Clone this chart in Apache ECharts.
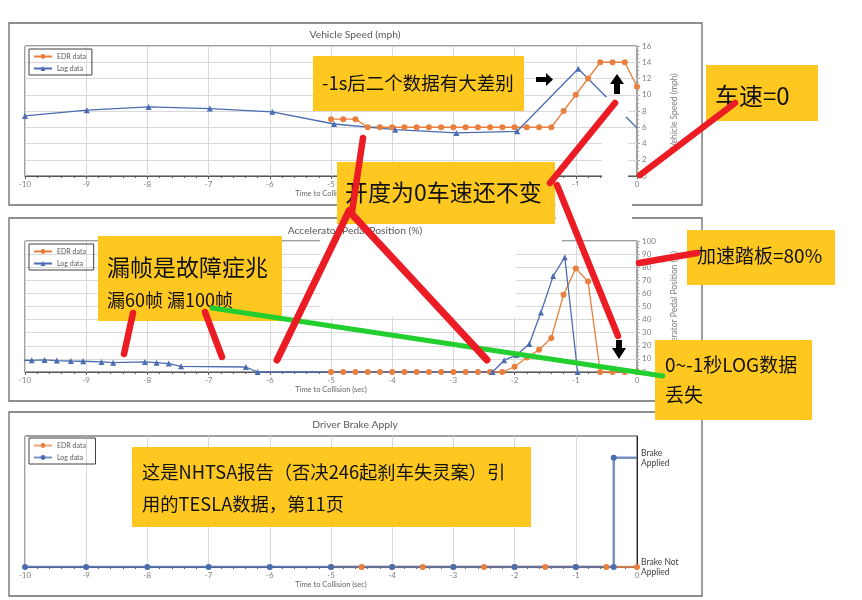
<!DOCTYPE html>
<html>
<head>
<meta charset="utf-8">
<script src="https://cdn.jsdelivr.net/npm/echarts@6/dist/echarts.min.js"></script>
<style>
html, body { margin: 0; padding: 0; background: #fff; }
#main { width: 862px; height: 600px; }
</style>
</head>
<body>
<div id="main"></div>
<script>
// EDR 采样时间 (0.2s)
var edrTime = [-5, -4.8, -4.6, -4.4, -4.2, -4, -3.8, -3.6, -3.4, -3.2, -3, -2.8, -2.6,
    -2.4, -2.2, -2, -1.8, -1.6, -1.4, -1.2, -1, -0.8, -0.6, -0.4, -0.2, 0];

// 车速
var speedEdr = [7, 7, 7, 6, 6, 6, 6, 6, 6, 6, 6, 6, 6, 6, 6, 6, 6, 6, 6, 8, 10, 12, 14, 14, 14, 11];
var speedLogTime = [-10, -8.99, -7.98, -6.98, -5.96, -4.95, -3.95, -2.95, -1.96, -0.96, 0];
var speedLog = [7.4, 8.1, 8.5, 8.3, 7.9, 6.4, 5.7, 5.3, 5.5, 13.2, 5.9];

// 油门踏板
var pedalEdr = [0, 0, 0, 0, 0, 0, 0, 0, 0, 0, 0, 0, 0, 0, 0, 4, 11, 17, 26, 59, 79, 69, 0, 0, 0, 0];
var pedalLogTime = [-10.08, -9.89, -9.68, -9.48, -9.25, -9.05, -8.75, -8.56, -8.04, -7.85, -7.65,
    -7.45, -6.39, -6.2, -2.36, -2.17, -1.97, -1.76, -1.57, -1.37, -1.18, -0.97];
var pedalLog = [9.0, 8.9, 9.2, 8.7, 8.4, 8.2, 7.7, 7.1, 7.7, 7.1, 6.4,
    4.3, 3.8, 0, 0, 9.0, 12.9, 21.4, 45.4, 73.2, 87.6, 0];

// 刹车
var brakeEdrTime = [-5, -4.5, -4, -3.5, -3, -2.5, -2, -1.5, -1, -0.5, 0];
var brakeEdr = [0, 0, 0, 0, 0, 0, 0, 0, 0, 0, 0];
var brakeLogTime = [-10, -9, -8, -7, -6, -5, -4, -3, -2, -1, -0.38, -0.38, 0];
var brakeLog = [0, 0, 0, 0, 0, 0, 0, 0, 0, 0, 0, 1, 1];
var brakeLabels = ['Brake Not\nApplied', 'Brake\nApplied'];

var chartTitles = ['Vehicle Speed (mph)', 'Accelerator Pedal Position (%)', 'Driver Brake Apply'];

var orange = '#E97F3E';
var blue = '#4A6CB0';
var yellow = '#FEC820';
var red = '#EC1C24';
var green = '#23CF2E';

function pairs(xs, ys) {
    var out = [];
    for (var i = 0; i < xs.length; i++) {
        out.push([xs[i], ys[i]]);
    }
    return out;
}

function xAxisFor(idx) {
    return {
        type: 'value', gridIndex: idx, min: -10, max: 0, interval: 1,
        name: 'Time to Collision (sec)', nameLocation: 'middle', nameGap: 14,
        nameTextStyle: { fontFamily: 'Lato', fontSize: 7.5, color: '#666' },
        axisLine: { lineStyle: { color: '#595959', width: 1 } },
        axisTick: { length: 3, lineStyle: { color: '#595959' } },
        minorTick: { show: true, splitNumber: 5, length: 2, lineStyle: { color: '#595959' } },
        axisLabel: { fontFamily: 'Lato', fontSize: 8, color: '#808080', margin: 4 },
        splitLine: { show: true, lineStyle: { color: '#D9D9D9' } }
    };
}

function valueAxis(idx, max, step, name) {
    return {
        type: 'value', gridIndex: idx, position: 'right', min: 0, max: max, interval: step,
        name: name, nameLocation: 'middle', nameGap: 33, nameRotate: 90,
        nameTextStyle: { fontFamily: 'Lato', fontSize: 8.5, color: '#808080' },
        axisLine: { show: true, lineStyle: { color: '#A6A6A6' } },
        axisTick: { show: true, length: 3, lineStyle: { color: '#A6A6A6' } },
        minorTick: { show: true, splitNumber: 4, length: 2, lineStyle: { color: '#A6A6A6' } },
        axisLabel: { fontFamily: 'Lato', fontSize: 8, color: '#808080', margin: 5 },
        splitLine: { show: true, lineStyle: { color: '#D9D9D9' } }
    };
}

function lineSeries(name, idx, data, color, symbol, width, opacity) {
    return {
        name: name, type: 'line', xAxisIndex: idx, yAxisIndex: idx,
        data: data, symbol: symbol, symbolSize: 6,
        itemStyle: { color: color },
        lineStyle: { color: color, width: width, opacity: opacity }
    };
}

function legendFor(top, names) {
    return {
        left: 29, top: top, orient: 'vertical', data: names,
        borderColor: '#404040', borderWidth: 1, padding: [4, 6, 3, 4],
        itemGap: 5, itemWidth: 18, itemHeight: 6,
        textStyle: { fontFamily: 'Lato', fontSize: 7, color: '#595959' }
    };
}

function titleFor(text, top) {
    return {
        text: text, left: 355, top: top, textAlign: 'center', padding: 0,
        textStyle: { fontFamily: 'Lato', fontSize: 10.3, fontWeight: 'normal', color: '#595959' }
    };
}

// 注释图形
function rectEl(x, y, w, h, fill, z) {
    return { type: 'rect', silent: true, z: z, shape: { x: x, y: y, width: w, height: h }, style: { fill: fill } };
}

function frameEl(x, y, w, h) {
    return { type: 'rect', silent: true, z: 1, shape: { x: x, y: y, width: w, height: h },
        style: { fill: 'transparent', stroke: '#6B6B6B', lineWidth: 1.3 } };
}

function polyEl(points, fill, z) {
    return { type: 'polygon', silent: true, z: z, shape: { points: points }, style: { fill: fill } };
}

function segEl(x1, y1, x2, y2, color, w, z) {
    return { type: 'line', silent: true, z: z, shape: { x1: x1, y1: y1, x2: x2, y2: y2 },
        style: { stroke: color, lineWidth: w, lineCap: 'round' } };
}

function textEl(x, y, str, size) {
    return { type: 'text', silent: true, z: 11, x: x, y: y,
        style: { text: str, fontSize: size, fontFamily: '"Noto Sans CJK SC"', fill: '#111',
            align: 'left', verticalAlign: 'middle' } };
}

var speedLogData = pairs(speedLogTime, speedLog);
speedLogData[speedLogData.length - 1] = { value: speedLogData[speedLogData.length - 1], symbol: 'none' };
var brakeLogData = pairs(brakeLogTime, brakeLog);
brakeLogData[brakeLogData.length - 1] = { value: brakeLogData[brakeLogData.length - 1], symbol: 'none' };

var brakeAxis = {
    type: 'value', gridIndex: 2, position: 'right', min: 0, max: 1.2, interval: 1,
    axisLine: { show: true, lineStyle: { color: '#262626' } },
    axisTick: { show: false },
    splitLine: { show: false },
    axisLabel: {
        fontFamily: 'Lato', fontSize: 8.5, color: '#404040', margin: 4, lineHeight: 10,
        formatter: function(v) {
            if (v === 0) return brakeLabels[0];
            if (v === 1) return brakeLabels[1];
            return '';
        }
    }
};

var gridBase = { left: 25, width: 612, height: 131, show: true, borderColor: '#404040', borderWidth: 1,
    outerBoundsMode: 'none' };

var option = {
    animation: false,
    backgroundColor: '#fff',
    title: [titleFor(chartTitles[0], 30), titleFor(chartTitles[1], 226), titleFor(chartTitles[2], 420)],
    legend: [
        legendFor(49, ['EDR data', 'Log data']),
        legendFor(244, ['EDR data ', 'Log data ']),
        legendFor(438, ['EDR data  ', 'Log data  '])
    ],
    grid: [
        Object.assign({}, gridBase, { top: 46, height: 130 }),
        Object.assign({}, gridBase, { top: 241 }),
        Object.assign({}, gridBase, { top: 436 })
    ],
    xAxis: [xAxisFor(0), xAxisFor(1), xAxisFor(2)],
    yAxis: [
        valueAxis(0, 16, 2, 'Vehicle Speed (mph)'),
        valueAxis(1, 100, 10, 'Accelerator Pedal Position (%)'),
        brakeAxis
    ],
    series: [
        lineSeries('EDR data', 0, pairs(edrTime, speedEdr), orange, 'circle', 1.3, 1),
        lineSeries('Log data', 0, speedLogData, blue, 'triangle', 1.3, 1),
        lineSeries('EDR data ', 1, pairs(edrTime, pedalEdr), orange, 'circle', 1.3, 1),
        lineSeries('Log data ', 1, pairs(pedalLogTime, pedalLog), blue, 'triangle', 1.3, 1),
        lineSeries('EDR data  ', 2, pairs(brakeEdrTime, brakeEdr), orange, 'circle', 2.5, 0.7),
        lineSeries('Log data  ', 2, brakeLogData, blue, 'circle', 2.5, 0.75)
    ],
    graphic: [
        // 外框
        frameEl(9, 23, 693, 182),
        frameEl(9, 218, 693, 183),
        frameEl(9, 412, 693, 184),
        // 白色遮挡
        rectEl(606, 97, 22, 20, '#fff', 5),
        polyEl([[602, 136], [628, 136], [628, 186], [632, 186], [632, 239], [556, 239], [555, 186], [602, 186]], '#fff', 5),
        polyEl([[320, 237], [562, 237], [562, 246], [516, 246], [516, 317], [320, 317]], '#fff', 5),
        // 黄色标注框
        rectEl(313, 56, 211, 55, yellow, 10),
        rectEl(706, 65, 112, 56, yellow, 10),
        rectEl(337, 162, 218, 62, yellow, 10),
        rectEl(98, 236, 184, 85, yellow, 10),
        rectEl(687, 230, 148, 55, yellow, 10),
        rectEl(655, 340, 157, 80, yellow, 10),
        rectEl(132, 447, 399, 80, yellow, 10),
        textEl(322, 83, '-1s后二个数据有大差别', 18.5),
        textEl(715, 96, '车速=0', 24),
        textEl(345, 192, '开度为0车速还不变', 23),
        textEl(107, 267, '漏帧是故障症兆', 23),
        textEl(107, 300, '漏60帧 漏100帧', 18),
        textEl(697, 256, '加速踏板=80%', 19),
        textEl(665, 365, '0~-1秒LOG数据', 19),
        textEl(665, 395, '丢失', 19),
        textEl(142, 472, '这是NHTSA报告（否决246起刹车失灵案）引', 18.3),
        textEl(142, 504, '用的TESLA数据，第11页', 18.3),
        // 绿线
        segEl(212, 308, 663, 376, green, 5, 12),
        // 红线
        segEl(640, 175, 735, 103, red, 6.5, 13),
        segEl(550, 183, 615, 103, red, 6.5, 13),
        segEl(557, 185, 618, 336, red, 6.5, 13),
        segEl(363, 138, 352, 212, red, 6.5, 13),
        segEl(349, 211, 277, 360, red, 7, 13),
        segEl(349, 211, 487, 360, red, 7, 13),
        segEl(133, 313, 124, 354, red, 6.5, 13),
        segEl(205, 312, 222, 357, red, 6.5, 13),
        segEl(639, 263, 697, 253, red, 6.5, 13),
        // 黑色箭头
        polyEl([[536, 77], [546, 77], [546, 73], [553, 79.5], [546, 86], [546, 82], [536, 82]], '#000', 13),
        polyEl([[614, 94], [614, 84], [610, 84], [617, 74], [624, 84], [620, 84], [620, 94]], '#000', 13),
        polyEl([[616, 340], [622, 340], [622, 348], [626, 348], [619, 359], [612, 348], [616, 348]], '#000', 13)
    ]
};

var chart = echarts.init(document.getElementById('main'));
chart.setOption(option);
</script>
</body>
</html>
